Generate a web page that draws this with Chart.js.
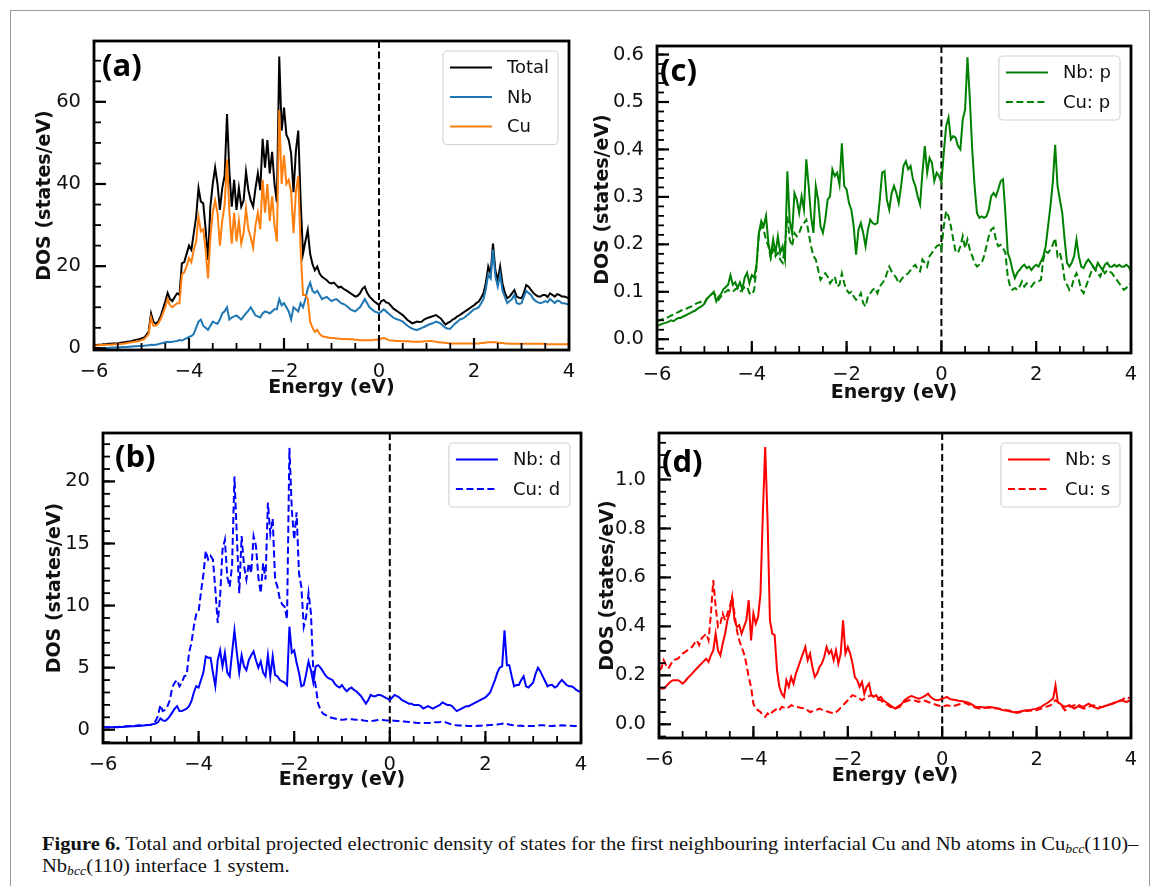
<!DOCTYPE html>
<html lang="en">
<head>
<meta charset="UTF-8">
<title>DOS Cu/Nb interface</title>
<script src="https://cdn.jsdelivr.net/npm/chart.js"></script>
<style>
  body { margin: 0; background: #fff; width: 1153px; height: 886px; overflow: hidden; position: relative; }
  .frame { position: absolute; left: 10px; top: 10px; width: 1140px; height: 900px; border: 1.5px solid #9a9a9a; box-sizing: border-box; }
  canvas { position: absolute; }
  #caption { position: absolute; left: 42px; top: 833px; font-family: 'Liberation Serif', serif; font-size: 18px; line-height: 22px; white-space: nowrap; transform-origin: 0 0; color: #111; }
  #caption sub { font-size: 12px; line-height: 0; vertical-align: -3px; }
</style>
</head>
<body>
<div class="frame"></div>
<canvas id="ca" width="549" height="372" style="left:30px; top:31px;"></canvas>
<canvas id="cc" width="553" height="372" style="left:588px; top:36px;"></canvas>
<canvas id="cb" width="551" height="372" style="left:40px; top:423px;"></canvas>
<canvas id="cd" width="548" height="368" style="left:593px; top:423px;"></canvas>
<div id="caption"><b>Figure 6.</b> Total and orbital projected electronic density of states for the first neighbouring interfacial Cu and Nb atoms in Cu<sub><i>bcc</i></sub>(110)–<br>Nb<sub><i>bcc</i></sub>(110) interface 1 system.</div>

<script>
// energy grid (eV)
const energy = [
  -6,-5.95,-5.9,-5.85,-5.8,-5.75,-5.7,-5.65,-5.6,-5.55,-5.5,-5.45,-5.4,-5.35,-5.3,-5.25,-5.2,-5.15,-5.1,-5.05,
  -5,-4.95,-4.9,-4.85,-4.8,-4.75,-4.7,-4.65,-4.6,-4.55,-4.5,-4.45,-4.4,-4.35,-4.3,-4.25,-4.2,-4.15,-4.1,-4.05,
  -4,-3.95,-3.9,-3.85,-3.8,-3.75,-3.7,-3.65,-3.6,-3.55,-3.5,-3.45,-3.4,-3.35,-3.3,-3.25,-3.2,-3.15,-3.1,-3.05,
  -3,-2.95,-2.9,-2.85,-2.8,-2.75,-2.7,-2.65,-2.6,-2.55,-2.5,-2.45,-2.4,-2.35,-2.3,-2.25,-2.2,-2.15,-2.1,-2.05,
  -2,-1.95,-1.9,-1.85,-1.8,-1.75,-1.7,-1.65,-1.6,-1.55,-1.5,-1.45,-1.4,-1.35,-1.3,-1.25,-1.2,-1.15,-1.1,-1.05,
  -1,-0.95,-0.9,-0.85,-0.8,-0.75,-0.7,-0.65,-0.6,-0.55,-0.5,-0.45,-0.4,-0.35,-0.3,-0.25,-0.2,-0.15,-0.1,-0.05,
  0,0.05,0.1,0.15,0.2,0.25,0.3,0.35,0.4,0.45,0.5,0.55,0.6,0.65,0.7,0.75,0.8,0.85,0.9,0.95,
  1,1.05,1.1,1.15,1.2,1.25,1.3,1.35,1.4,1.45,1.5,1.55,1.6,1.65,1.7,1.75,1.8,1.85,1.9,1.95,
  2,2.05,2.1,2.15,2.2,2.25,2.3,2.35,2.4,2.45,2.5,2.55,2.6,2.65,2.7,2.75,2.8,2.85,2.9,2.95,
  3,3.05,3.1,3.15,3.2,3.25,3.3,3.35,3.4,3.45,3.5,3.55,3.6,3.65,3.7,3.75,3.8,3.85,3.9,3.95,
  4
];

// (a) total and atom projected DOS
const totalDos = [
  0.8,0.8,0.9,0.9,1.0,1.0,1.1,1.1,1.2,1.2,1.2,1.3,1.4,1.5,1.6,1.7,1.8,2.0,2.1,2.2,
  2.4,2.6,3.2,4.0,8.5,6.5,6.0,6.5,7.7,9.5,11.4,13.5,12.0,11.5,12.5,13.4,13.0,20.7,21.0,23.0,
  25,24,28,32,39,35.7,35.3,29,21.5,34.5,40,44,40,33.7,39,42,57,43,34.5,41,
  33.7,39,34.5,36,43,38.5,36,34.5,39,42.6,38.5,51,44,50.7,42.6,47.8,40,35.5,71,53,
  58.6,52,50.7,47.4,38,48,53,36,23,26,28.8,23,20.5,19,19.9,18.2,17.4,17,16.6,16,
  15.8,16,15.4,14.8,15,14.5,14.2,13.8,13.4,13,12.6,12.8,13.4,14.5,15,13.5,12.6,12,11.4,11,
  10.5,11.5,11.8,11.2,11,10.4,9.7,9.3,8.9,8.5,8.1,7.5,6.9,6.5,6.1,6.3,6.5,6.4,6.5,7.0,
  7.3,7.5,7.7,7.9,8.1,7.7,7.3,6.5,5.8,6.2,6.5,7.0,7.3,7.8,8.1,8.5,8.9,9.3,9.7,10.1,
  10.5,11,11.4,12.3,13.4,16,19.9,18.2,25.5,19,16.6,19.9,15.8,13.5,12.2,12.6,13.4,14.2,12.6,12.3,
  12.2,13.5,15.4,15,14.2,13.5,13,12.6,12.6,13,13,12.5,13.4,13,12.6,13.2,13,12.6,12.6,12.4,
  12.2
];
const nbDos = [
  0.0,0.0,0.05,0.05,0.1,0.1,0.1,0.15,0.2,0.2,0.2,0.25,0.3,0.3,0.35,0.4,0.45,0.5,0.5,0.55,
  0.6,0.65,0.7,0.75,0.9,0.8,0.9,1.0,1.2,1.3,1.5,1.6,1.5,1.6,1.7,1.8,2.0,1.9,2.2,2.5,
  2.8,3.0,3.5,5,6.5,7,5.5,5,4.5,5.5,6.5,6.2,6,7,8.5,9,10,7,7.5,7.8,
  8,7.5,7,7.8,8.5,9.2,10,9,8,7.8,7.5,8.5,9,8.8,8.5,9,9.5,9.5,12,10.5,
  11,10,9,7,10,9.5,9,11,10,12,14.5,16,14,13.5,14,13,12,12.3,12.5,12,
  11.5,11.8,12,11.5,11,10.8,10.5,10,9.5,9.2,9,9.5,10,11,12,11,10,9.5,9,8.8,
  8.5,9.0,9.5,9.0,8.5,8.0,7.5,7.2,7.0,6.8,6.5,6.0,5.5,5.1,4.8,4.6,4.5,4.7,5.0,5.2,
  5.5,5.8,6.0,6.2,6.5,6.3,6.0,5.5,5.0,4.8,4.8,5.4,6.0,6.5,7.0,7.2,7.5,8.0,8.5,9.0,
  9.5,9.7,10,11,12,14.5,18,17,24,17.5,15,18,14,12.5,11,11.5,12,13,11,10.8,
  11,12.5,14,13.5,13,12,11.5,11.2,11,11.2,11.5,11.2,12,11.5,11,11.6,11.5,11,11,10.8,
  10.5
];
const cuDos = [
  0.7,0.7,0.75,0.8,0.8,0.85,0.9,0.9,0.95,1.0,1.0,1.05,1.1,1.2,1.3,1.4,1.5,1.6,1.7,1.8,
  2.0,2.2,2.8,3.5,7.5,5.5,5.5,6,7,8.5,10,12,10.5,10,10.5,11,11,18,18.5,20,
  22,21,24,26,32,28.5,29,24,17,27,33,36,33,25,31,35,46,33,25.5,33,
  26,31,25.5,28,34,29,27,24.5,30,33,29,41,33,40,31,37,30,26,58,40,
  47,40,41,38,28,38,42,24,13,13,12,6.5,5,4,4.5,3.5,3,2.8,2.7,2.6,
  2.5,2.5,2.4,2.4,2.3,2.3,2.3,2.2,2.2,2.2,2.1,2.1,2.0,2.0,2.0,2.0,2.0,2.0,2.1,2.1,
  2.2,2.4,2.5,2.3,2.0,1.9,1.9,1.8,1.8,1.8,1.7,1.7,1.7,1.7,1.6,1.6,1.6,1.6,1.6,1.7,
  1.7,1.8,1.8,1.7,1.6,1.5,1.4,1.4,1.3,1.3,1.2,1.2,1.2,1.2,1.2,1.2,1.2,1.2,1.2,1.2,
  1.2,1.2,1.2,1.3,1.3,1.4,1.5,1.5,1.5,1.5,1.4,1.3,1.3,1.2,1.2,1.1,1.1,1.1,1.1,1.1,
  1.1,1.1,1.1,1.1,1.1,1.1,1.1,1.1,1.1,1.1,1.0,1.0,1.0,1.0,1.0,1.0,1.0,1.0,1.0,1.0,
  1.0
];

// (b) d orbitals
const nbD = [
  0.2,0.2,0.2,0.2,0.2,0.2,0.2,0.22,0.22,0.24,0.25,0.25,0.27,0.28,0.3,0.3,0.32,0.34,0.36,0.38,
  0.4,0.45,0.5,0.6,0.9,0.75,0.7,0.85,1.1,1.4,1.7,1.9,1.5,1.5,1.6,1.7,1.9,2.3,3.0,3.5,
  3.4,4.0,4.6,5.9,5.8,5.8,4.6,3.5,5.6,6.4,5.1,6.2,4.6,4.3,6.2,8.0,6.2,4.6,6.0,5.1,
  4.8,5.6,6.0,6.3,5.6,5.0,5.5,4.6,4.3,6.0,4.3,5.9,4.4,4.3,4.0,3.9,3.8,3.6,8.3,6.2,
  6.4,5.4,4.6,3.5,3.6,4.5,5.5,4.8,3.8,5.1,5.2,5.0,4.7,4.4,4.2,4.1,4.0,3.7,3.5,3.4,
  3.6,3.3,3.1,3.3,3.4,3.2,3.1,2.9,2.7,2.4,2.1,2.4,2.8,2.7,2.7,2.8,2.8,2.7,2.6,2.5,
  2.4,2.6,2.8,2.7,2.6,2.4,2.3,2.2,2.1,2.1,2.0,2.0,2.0,1.9,1.7,1.8,1.9,1.8,1.7,1.8,
  1.9,2.0,2.2,2.1,2.0,2.0,1.9,1.7,1.5,1.6,1.7,1.8,1.9,1.9,2.0,2.1,2.2,2.3,2.4,2.5,
  2.6,2.8,3.0,3.5,4.0,4.6,5.0,5.1,8.0,5.2,5.2,4.3,3.5,3.6,3.6,4.0,4.3,3.5,3.4,3.6,
  3.8,4.5,5.0,4.7,4.3,3.9,3.5,3.6,3.6,3.4,3.5,3.8,4.0,3.8,3.6,3.5,3.5,3.4,3.2,3.1,
  3.0
];
const cuD = [
  0.2,0.2,0.2,0.2,0.2,0.22,0.22,0.24,0.25,0.26,0.28,0.3,0.3,0.32,0.33,0.35,0.36,0.37,0.38,0.39,
  0.4,0.5,0.7,1.1,2.0,1.5,1.6,1.9,2.4,3.4,3.8,4.0,3.5,3.8,4.3,4.4,6.2,7.0,8.3,9.3,
  9.5,11.1,12.5,14.4,13.7,14.0,13.7,11.3,8.6,10.7,14.5,15.3,12.3,11.5,13.2,20.4,15.6,11.0,15.6,13.2,
  12.1,13.4,12.6,15.6,14.8,12.3,11.0,13.4,12.1,18.3,15.8,17.0,12.1,11.5,10.5,10.1,9.9,8.9,22.7,17.7,
  15.3,17.5,12.6,11.5,8.3,9.1,11.0,9.4,4.6,3.5,2.1,1.6,1.3,1.2,1.1,1.0,0.95,0.9,0.85,0.8,
  0.8,0.82,0.85,0.85,0.85,0.82,0.8,0.8,0.8,0.75,0.72,0.7,0.7,0.72,0.75,0.78,0.8,0.78,0.76,0.75,
  0.75,0.74,0.72,0.7,0.7,0.68,0.66,0.64,0.62,0.6,0.58,0.56,0.55,0.55,0.55,0.55,0.55,0.56,0.58,0.6,
  0.6,0.62,0.65,0.62,0.55,0.48,0.42,0.38,0.35,0.34,0.33,0.32,0.31,0.3,0.3,0.3,0.3,0.31,0.32,0.34,
  0.35,0.36,0.38,0.39,0.4,0.42,0.45,0.48,0.5,0.46,0.42,0.38,0.35,0.33,0.32,0.31,0.3,0.3,0.3,0.3,
  0.3,0.31,0.33,0.35,0.35,0.34,0.32,0.3,0.3,0.31,0.32,0.33,0.35,0.34,0.33,0.32,0.31,0.3,0.3,0.3,
  0.3
];

// (c) p orbitals
const nbP = [
  0.027,0.03,0.032,0.034,0.035,0.037,0.04,0.038,0.042,0.045,0.045,0.048,0.05,0.053,0.055,0.058,0.06,0.064,0.067,0.07,
  0.075,0.085,0.09,0.095,0.1,0.08,0.09,0.095,0.105,0.11,0.115,0.135,0.115,0.12,0.108,0.12,0.105,0.13,0.14,0.118,
  0.135,0.13,0.157,0.224,0.249,0.238,0.26,0.203,0.175,0.21,0.182,0.217,0.182,0.196,0.168,0.354,0.249,0.224,0.308,0.294,
  0.266,0.301,0.273,0.379,0.323,0.259,0.224,0.323,0.294,0.238,0.224,0.252,0.294,0.301,0.358,0.344,0.351,0.326,0.413,0.323,
  0.316,0.287,0.273,0.238,0.178,0.231,0.245,0.224,0.196,0.231,0.252,0.245,0.242,0.245,0.294,0.351,0.354,0.294,0.273,0.308,
  0.323,0.308,0.287,0.323,0.365,0.375,0.358,0.365,0.337,0.323,0.301,0.284,0.351,0.407,0.351,0.382,0.372,0.333,0.351,0.344,
  0.33,0.393,0.449,0.467,0.421,0.428,0.425,0.407,0.4,0.463,0.484,0.594,0.506,0.4,0.323,0.266,0.256,0.259,0.256,0.259,
  0.273,0.301,0.308,0.301,0.316,0.333,0.337,0.266,0.182,0.168,0.146,0.129,0.14,0.146,0.153,0.157,0.15,0.153,0.146,0.153,
  0.157,0.153,0.164,0.175,0.196,0.238,0.28,0.33,0.41,0.323,0.294,0.266,0.21,0.161,0.153,0.161,0.175,0.21,0.175,0.153,
  0.15,0.161,0.168,0.161,0.153,0.146,0.161,0.153,0.146,0.157,0.161,0.153,0.153,0.157,0.153,0.157,0.153,0.153,0.157,0.153,
  0.143
];
const cuP = [
  0.038,0.04,0.042,0.044,0.045,0.047,0.05,0.052,0.055,0.057,0.06,0.062,0.063,0.066,0.068,0.07,0.074,0.076,0.078,0.08,
  0.076,0.085,0.09,0.095,0.097,0.09,0.083,0.09,0.097,0.1,0.104,0.1,0.1,0.105,0.108,0.1,0.104,0.11,0.111,0.097,
  0.094,0.104,0.153,0.224,0.238,0.231,0.21,0.196,0.171,0.189,0.175,0.182,0.168,0.161,0.196,0.259,0.21,0.196,0.224,0.217,
  0.224,0.238,0.245,0.252,0.224,0.196,0.175,0.168,0.146,0.125,0.132,0.139,0.132,0.118,0.125,0.132,0.111,0.115,0.139,0.118,
  0.104,0.097,0.1,0.09,0.083,0.087,0.097,0.076,0.069,0.09,0.097,0.104,0.108,0.097,0.111,0.118,0.125,0.139,0.153,0.143,
  0.136,0.129,0.118,0.125,0.132,0.136,0.139,0.146,0.153,0.157,0.146,0.143,0.168,0.161,0.153,0.175,0.182,0.189,0.196,0.199,
  0.189,0.238,0.27,0.259,0.238,0.21,0.185,0.182,0.196,0.217,0.192,0.21,0.189,0.175,0.161,0.153,0.157,0.161,0.175,0.196,
  0.217,0.231,0.235,0.21,0.196,0.199,0.192,0.182,0.132,0.111,0.104,0.108,0.104,0.111,0.122,0.111,0.118,0.115,0.111,0.118,
  0.122,0.122,0.125,0.168,0.185,0.182,0.189,0.199,0.213,0.175,0.182,0.161,0.125,0.115,0.104,0.111,0.129,0.139,0.125,0.104,
  0.097,0.111,0.125,0.139,0.153,0.146,0.139,0.132,0.146,0.139,0.146,0.143,0.139,0.132,0.125,0.118,0.111,0.104,0.108,0.115,
  0.118
];

// (d) s orbitals
const nbS = [
  0.146,0.146,0.146,0.155,0.166,0.175,0.18,0.18,0.18,0.175,0.166,0.175,0.187,0.197,0.207,0.218,0.228,0.238,0.248,0.258,
  0.268,0.255,0.282,0.302,0.37,0.302,0.282,0.33,0.37,0.425,0.459,0.52,0.425,0.398,0.405,0.37,0.398,0.425,0.507,0.343,
  0.452,0.411,0.439,0.534,0.861,1.133,0.834,0.425,0.37,0.364,0.221,0.153,0.125,0.112,0.18,0.153,0.193,0.166,0.207,0.234,
  0.262,0.289,0.316,0.262,0.289,0.234,0.193,0.207,0.234,0.248,0.275,0.316,0.289,0.302,0.262,0.302,0.248,0.289,0.425,0.289,
  0.316,0.289,0.248,0.193,0.18,0.153,0.173,0.125,0.153,0.166,0.119,0.112,0.119,0.105,0.112,0.098,0.091,0.085,0.078,0.071,
  0.064,0.067,0.071,0.085,0.098,0.105,0.112,0.115,0.112,0.108,0.105,0.108,0.112,0.118,0.125,0.112,0.105,0.1,0.098,0.1,
  0.105,0.108,0.112,0.105,0.101,0.1,0.098,0.096,0.095,0.093,0.091,0.088,0.084,0.078,0.071,0.071,0.071,0.07,0.068,0.07,
  0.071,0.07,0.068,0.066,0.064,0.06,0.057,0.056,0.054,0.052,0.05,0.048,0.046,0.05,0.054,0.056,0.057,0.058,0.06,0.062,
  0.064,0.068,0.071,0.078,0.084,0.09,0.098,0.105,0.159,0.091,0.084,0.076,0.071,0.075,0.078,0.07,0.064,0.07,0.078,0.074,
  0.071,0.078,0.084,0.078,0.071,0.068,0.064,0.068,0.071,0.075,0.078,0.081,0.084,0.088,0.091,0.095,0.098,0.094,0.091,0.095,
  0.098
];
const cuS = [
  0.223,0.228,0.262,0.241,0.228,0.245,0.262,0.265,0.268,0.278,0.289,0.295,0.302,0.31,0.316,0.33,0.343,0.323,0.35,0.36,
  0.37,0.343,0.452,0.589,0.48,0.398,0.411,0.452,0.425,0.452,0.48,0.52,0.452,0.384,0.343,0.316,0.289,0.248,0.193,0.153,
  0.084,0.064,0.057,0.05,0.037,0.03,0.044,0.037,0.05,0.057,0.064,0.057,0.071,0.068,0.064,0.07,0.078,0.074,0.071,0.07,
  0.068,0.066,0.064,0.057,0.05,0.053,0.057,0.06,0.064,0.06,0.057,0.053,0.05,0.047,0.044,0.05,0.057,0.068,0.078,0.088,
  0.098,0.11,0.119,0.115,0.112,0.105,0.098,0.105,0.112,0.115,0.119,0.112,0.105,0.1,0.098,0.09,0.084,0.078,0.071,0.068,
  0.064,0.071,0.078,0.085,0.091,0.095,0.098,0.098,0.098,0.095,0.091,0.095,0.098,0.095,0.091,0.088,0.084,0.081,0.078,0.075,
  0.071,0.075,0.078,0.076,0.074,0.076,0.078,0.081,0.084,0.086,0.087,0.082,0.078,0.073,0.068,0.066,0.064,0.066,0.068,0.068,
  0.068,0.067,0.066,0.065,0.064,0.062,0.06,0.058,0.057,0.054,0.052,0.05,0.05,0.052,0.054,0.055,0.054,0.055,0.056,0.057,
  0.057,0.061,0.064,0.068,0.071,0.075,0.078,0.088,0.098,0.09,0.084,0.07,0.057,0.064,0.071,0.075,0.078,0.074,0.071,0.068,
  0.064,0.068,0.071,0.075,0.078,0.075,0.073,0.071,0.071,0.075,0.078,0.081,0.084,0.088,0.091,0.095,0.098,0.105,0.112,0.108,
  0.105
];

const dashed = [7, 3.5];
const tickFont = { family: 'DejaVu Sans', size: 19.5 };
const titleFont = { family: 'DejaVu Sans', size: 19, weight: 'bold' };

function minus(v, dec) {
  return (v < -1e-9 ? '\u2212' : '') + Math.abs(v).toFixed(dec);
}

// inward ticks, frame, fermi line, legend box and panel letter
const panelDeco = {
  id: 'panelDeco',
  beforeDatasetsDraw(chart) {
    const { ctx, chartArea: a, scales: { x } } = chart;
    const x0 = x.getPixelForValue(0);
    ctx.save();
    ctx.strokeStyle = '#000';
    ctx.lineWidth = 2;
    ctx.setLineDash([7, 3.5]);
    ctx.beginPath();
    ctx.moveTo(x0, a.top);
    ctx.lineTo(x0, a.bottom);
    ctx.stroke();
    ctx.restore();
  },
  afterDatasetsDraw(chart, args, o) {
    const { ctx, chartArea: a, scales: { x, y } } = chart;
    ctx.save();
    ctx.strokeStyle = '#000';

    // minor ticks
    ctx.lineWidth = 1.8;
    const nx = Math.round((x.max - x.min) / o.xMinor);
    for (let i = 0; i <= nx; i++) {
      const px = x.getPixelForValue(x.min + i * o.xMinor);
      ctx.beginPath(); ctx.moveTo(px, a.bottom); ctx.lineTo(px, a.bottom - 7); ctx.stroke();
    }
    const y0 = Math.ceil(y.min / o.yMinor);
    const y1 = Math.floor(y.max / o.yMinor);
    for (let k = y0; k <= y1; k++) {
      const py = y.getPixelForValue(k * o.yMinor);
      ctx.beginPath(); ctx.moveTo(a.left, py); ctx.lineTo(a.left + 7, py); ctx.stroke();
    }
    // major ticks
    ctx.lineWidth = 2.2;
    x.ticks.forEach(t => {
      const px = x.getPixelForValue(t.value);
      ctx.beginPath(); ctx.moveTo(px, a.bottom); ctx.lineTo(px, a.bottom - 12); ctx.stroke();
    });
    y.ticks.forEach(t => {
      const py = y.getPixelForValue(t.value);
      ctx.beginPath(); ctx.moveTo(a.left, py); ctx.lineTo(a.left + 12, py); ctx.stroke();
    });

    // frame
    ctx.lineWidth = 2.8;
    ctx.strokeRect(a.left, a.top, a.right - a.left, a.bottom - a.top);

    // legend
    const sets = chart.data.datasets;
    ctx.font = '18px "DejaVu Sans"';
    const tw = Math.max(...sets.map(d => ctx.measureText(d.label).width));
    const rowH = 29.5;
    const bw = 7 + 42 + 15 + tw + 9;
    const bh = 34.5 + (sets.length - 1) * rowH;
    const bx = a.right - 11 - bw;
    const by = a.top + 10;
    ctx.fillStyle = 'rgba(255,255,255,0.85)';
    ctx.strokeStyle = '#d4d4d4';
    ctx.lineWidth = 1.2;
    ctx.beginPath();
    ctx.roundRect(bx, by, bw, bh, 4);
    ctx.fill();
    ctx.stroke();
    sets.forEach((d, i) => {
      const cy = by + 16.5 + i * rowH;
      ctx.strokeStyle = d.borderColor;
      ctx.lineWidth = 2;
      ctx.setLineDash(d.borderDash || []);
      ctx.beginPath(); ctx.moveTo(bx + 7, cy); ctx.lineTo(bx + 49, cy); ctx.stroke();
      ctx.setLineDash([]);
      ctx.fillStyle = '#111';
      ctx.textAlign = 'left';
      ctx.textBaseline = 'middle';
      ctx.fillText(d.label, bx + 64, cy + 1);
    });

    // panel letter
    ctx.fillStyle = '#000';
    ctx.font = 'bold 31px "Open Sans"';
    ctx.textAlign = 'left';
    ctx.textBaseline = 'middle';
    ctx.fillText(o.label, a.left + o.lx, a.top + o.ly);
    ctx.restore();
  }
};

function makePanel(id, p) {
  return new Chart(document.getElementById(id), {
    type: 'line',
    data: {
      datasets: p.series.map(s => ({
        label: s.label,
        data: energy.map((e, i) => ({ x: e, y: s.values[i] })),
        borderColor: s.color,
        borderWidth: 2,
        borderDash: s.dash || [],
        pointRadius: 0,
        tension: 0,
        order: s.order,
        fill: false
      }))
    },
    options: {
      responsive: false,
      animation: false,
      devicePixelRatio: 1,
      layout: { padding: { top: 10, right: 10, left: 0, bottom: 0 } },
      plugins: {
        legend: { display: false },
        tooltip: { enabled: false },
        panelDeco: { label: p.label, lx: p.lx, ly: p.ly, xMinor: 0.5, yMinor: p.yMinor }
      },
      scales: {
        x: {
          type: 'linear', min: -6, max: 4,
          grid: { display: false }, border: { display: false },
          ticks: { stepSize: 2, includeBounds: false, font: tickFont, color: '#111', padding: 2, maxRotation: 0,
                   callback: v => minus(v, 0) },
          title: { display: true, text: 'Energy (eV)', font: titleFont, color: '#111', padding: { top: 0, bottom: 4 } },
          afterFit: s => { s.height = p.xH; s.paddingLeft = 0; s.paddingRight = 0; }
        },
        y: {
          type: 'linear', min: p.yMin, max: p.yMax,
          grid: { display: false }, border: { display: false },
          ticks: { stepSize: p.yStep, includeBounds: false, font: tickFont, color: '#111', padding: 5,
                   callback: v => minus(v, p.yDec) },
          title: { display: true, text: 'DOS (states/eV)', font: titleFont, color: '#111', padding: { top: 4, bottom: 0 } },
          afterFit: s => { s.width = p.yW; s.paddingTop = 0; s.paddingBottom = 0; }
        }
      }
    },
    plugins: [panelDeco]
  });
}

makePanel('ca', {
  series: [
    { label: 'Total', values: totalDos, color: '#000000', order: 3 },
    { label: 'Nb', values: nbDos, color: '#1f77b4', order: 2 },
    { label: 'Cu', values: cuDos, color: '#ff7f0e', order: 1 }
  ],
  yMin: -0.4, yMax: 74.8, yStep: 20, yMinor: 5, yDec: 0, yW: 64, xH: 53,
  label: '(a)', lx: 8, ly: 26
});
makePanel('cb', {
  series: [
    { label: 'Nb: d', values: nbD, color: '#0000ff', order: 2 },
    { label: 'Cu: d', values: cuD, color: '#0000ff', dash: dashed, order: 1 }
  ],
  yMin: -1.07, yMax: 23.9, yStep: 5, yMinor: 1, yDec: 0, yW: 63, xH: 52,
  label: '(b)', lx: 12, ly: 25
});
makePanel('cc', {
  series: [
    { label: 'Nb: p', values: nbP, color: '#008000', order: 2 },
    { label: 'Cu: p', values: cuP, color: '#008000', dash: dashed, order: 1 }
  ],
  yMin: -0.029, yMax: 0.618, yStep: 0.1, yMinor: 0.02, yDec: 1, yW: 69, xH: 55,
  label: '(c)', lx: 3, ly: 26
});
makePanel('cd', {
  series: [
    { label: 'Nb: s', values: nbS, color: '#ff0000', order: 2 },
    { label: 'Cu: s', values: cuS, color: '#ff0000', dash: dashed, order: 1 }
  ],
  yMin: -0.056, yMax: 1.19, yStep: 0.2, yMinor: 0.05, yDec: 1, yW: 66, xH: 53,
  label: '(d)', lx: 3, ly: 30
});

// squeeze the caption to the width of the printed line
const cap = document.getElementById('caption');
cap.style.transform = 'scaleX(' + (1096 / cap.offsetWidth) + ')';
</script>
</body>
</html>
